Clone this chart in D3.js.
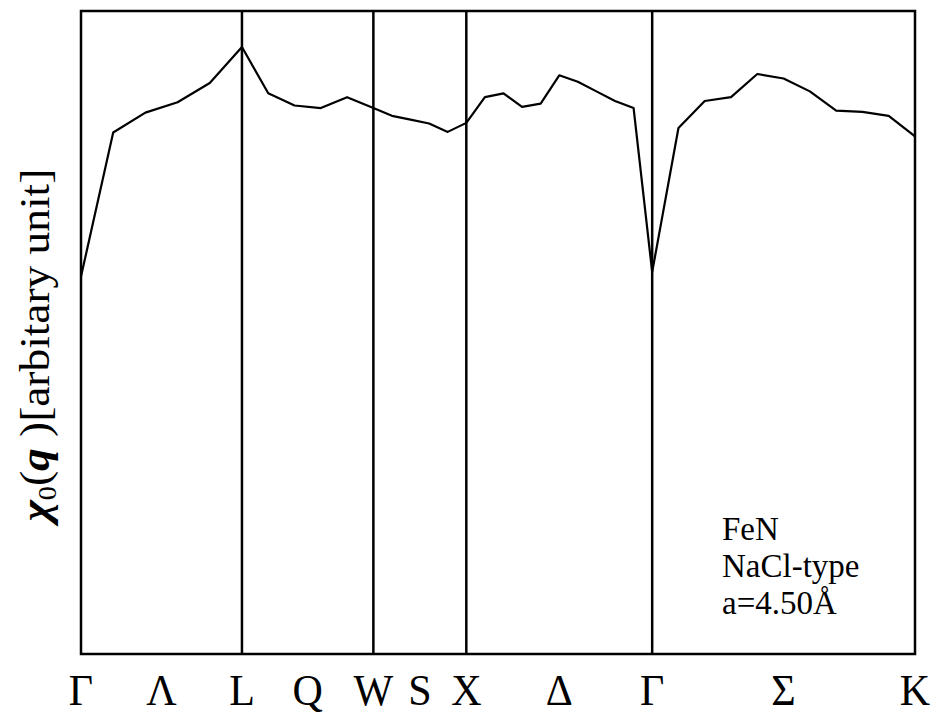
<!DOCTYPE html>
<html>
<head>
<meta charset="utf-8">
<script src="https://cdn.jsdelivr.net/npm/d3@7"></script>
<style>
  body { margin: 0; background: #fff; }
  text { font-family: "Liberation Serif", "Times New Roman", serif; }
</style>
</head>
<body>
<div id="vis"></div>
<script>
// high symmetry points and the lines between them
const points = ["Γ", "L", "W", "X", "Γ", "K"]
const lineNames = ["Λ", "Q", "S", "Δ", "Σ"]
// segment lengths in units of 2π/a
const segLen = [0.866, 0.707, 0.5, 1.0, 1.414]

// chi0(q), arbitrary unit, read along each segment (evenly spaced k points)
const segGL = [58.7, 81.1, 84.2, 85.8, 88.8, 94.4]
const segLW = [94.4, 87.2, 85.3, 84.9, 86.6, 84.9]
const segWX = [84.9, 83.7, 83.1, 82.5, 81.2, 82.6]
const segXG = [82.6, 86.6, 87.2, 85.1, 85.6, 90.0, 89.0, 87.5, 86.0, 84.9, 59.4]
const segGK = [59.4, 81.8, 86.0, 86.6, 90.2, 89.5, 87.5, 84.5, 84.3, 83.7, 80.5]
const segments = [segGL, segLW, segWX, segXG, segGK]

const legendLines = ["FeN", "NaCl-type", "a=4.50Å"]

const width = 938
const height = 714
const plotL = 81, plotR = 915, plotT = 11, plotB = 654

// cumulative positions of the symmetry points
const kPos = [0]
segLen.forEach(function(l, i){ kPos.push(kPos[i] + l) })

const x = d3.scaleLinear().domain([0, kPos[kPos.length - 1]]).range([plotL, plotR])
const y = d3.scaleLinear().domain([0, 100]).range([plotB, plotT])

// build the data points
const data = []
segments.forEach(function(seg, i){
  const n = seg.length - 1
  seg.forEach(function(v, j){
    if (i > 0 && j == 0) return
    data.push({k: kPos[i] + segLen[i] * j / n, v: v})
  })
})

const svg = d3.select("#vis")
  .append("svg")
  .attr("width", width)
  .attr("height", height)

// frame
svg.append("rect")
  .attr("x", plotL)
  .attr("y", plotT)
  .attr("width", plotR - plotL)
  .attr("height", plotB - plotT)
  .attr("fill", "none")
  .attr("stroke", "black")
  .attr("stroke-width", 2.5)

// vertical lines at inner symmetry points
svg.selectAll("vlines")
  .data(kPos.slice(1, -1))
  .enter()
  .append("line")
    .attr("x1", d => x(d))
    .attr("x2", d => x(d))
    .attr("y1", plotT)
    .attr("y2", plotB)
    .attr("stroke", "black")
    .attr("stroke-width", 2.5)

// the curve
const line = d3.line().x(d => x(d.k)).y(d => y(d.v))
svg.append("path")
  .datum(data)
  .attr("d", line)
  .attr("fill", "none")
  .attr("stroke", "black")
  .attr("stroke-width", 2.2)
  .attr("stroke-linejoin", "round")

// tick labels
const labels = []
points.forEach(function(p, i){
  labels.push({k: kPos[i], t: p})
  if (i < lineNames.length) labels.push({k: kPos[i] + segLen[i] / 2, t: lineNames[i]})
})
svg.selectAll("ticklabels")
  .data(labels)
  .enter()
  .append("text")
    .attr("transform", d => "translate(" + x(d.k) + ",705) scale(1,1.05)")
    .attr("text-anchor", "middle")
    .style("font-size", "42px")
    .text(d => d.t)

// y label
const ylab = svg.append("text")
  .attr("transform", "translate(49,345) scale(1,1.08) rotate(-90)")
  .attr("text-anchor", "middle")
  .style("font-size", "42px")
ylab.append("tspan").style("font-weight", "bold").style("font-style", "italic").text("χ")
ylab.append("tspan").style("font-size", "26px").attr("dy", 7).text("0")
ylab.append("tspan").attr("dy", -7).text("(")
ylab.append("tspan").style("font-weight", "bold").style("font-style", "italic").text("q")
ylab.append("tspan").text(" )[arbitary unit]")

// legend text
svg.selectAll("legend")
  .data(legendLines)
  .enter()
  .append("text")
    .attr("x", 722)
    .attr("y", (d, i) => 540 + i * 37)
    .style("font-size", "33px")
    .text(d => d)
</script>
</body>
</html>
